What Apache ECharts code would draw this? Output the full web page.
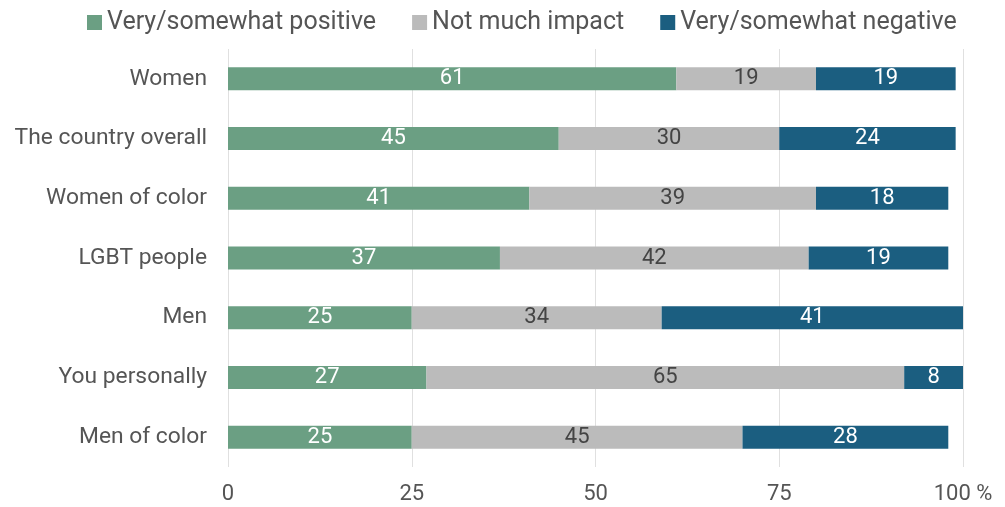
<!DOCTYPE html>
<html><head><meta charset="utf-8">
<script src="https://cdn.jsdelivr.net/npm/echarts@6/dist/echarts.min.js"></script>
<style>html,body{margin:0;padding:0;background:#fff}#c{width:1005px;height:507px}</style>
</head><body><div id="c"></div>
<script>
const categories = ["Women","The country overall","Women of color","LGBT people","Men","You personally","Men of color"];
const positive = [61,45,41,37,25,27,25];
const noImpact = [19,30,39,42,34,65,45];
const negative = [19,24,18,19,41,8,28];
const seriesNames = ["Very/somewhat positive","Not much impact","Very/somewhat negative"];
const xTicks = [0,25,50,75,100];

const colors = ["#6b9f83","#bbbbbb","#1b5e80"];
const labelColors = ["#ffffff","#444444","#ffffff"];
const chart = echarts.init(document.getElementById('c'));
const dataSets = [positive, noImpact, negative];
chart.setOption({
  animation:false,
  textStyle:{fontFamily:'Roboto'},
  legend:{
    top:5, left:82, itemWidth:15, itemHeight:15, itemGap:36,
    icon:'rect',
    textStyle:{fontSize:25, color:'#555', fontFamily:'Roboto'},
    data: seriesNames
  },
  grid:{left:228, right:42, top:49, bottom:40, containLabel:false},
  xAxis:{
    type:'value', min:0, max:100, interval:25,
    axisLine:{show:false}, axisTick:{show:false},
    splitLine:{lineStyle:{color:'#e0e0e0'}},
    axisLabel:{fontSize:22, color:'#555', margin:16,
      formatter:v=> v===100 ? '100 %' : String(v)}
  },
  yAxis:{
    type:'category', data:categories, inverse:true,
    axisLine:{show:false}, axisTick:{show:false},
    axisLabel:{fontSize:22.8, color:'#555', margin:21}
  },
  series: seriesNames.map((n,i)=>({
    name:n, type:'bar', stack:'total', barWidth:23,
    itemStyle:{color:colors[i]},
    label:{show:true, position:'inside', fontSize:22, color:labelColors[i]},
    data:dataSets[i]
  }))
});
</script></body></html>
